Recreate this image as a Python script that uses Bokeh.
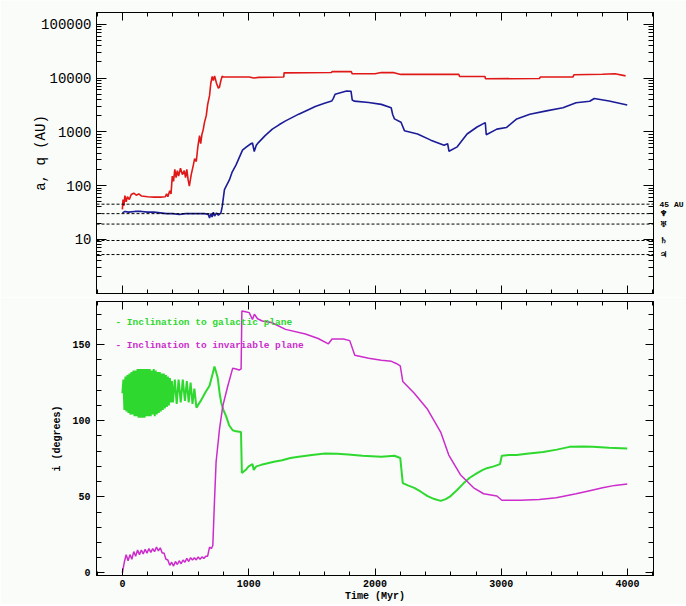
from bokeh.plotting import figure
from bokeh.layouts import column
from bokeh.models import (Range1d, LogAxis, LinearAxis, FixedTicker, PrintfTickFormatter,
                          Span, Label, CustomLabelingPolicy, CustomJSTickFormatter)
from bokeh.embed import file_html
from bokeh.resources import INLINE

# ---------------- data ----------------
# semi-major axis a (AU) vs time (Myr)
a_series = [(0, 36), (5, 55), (12, 42), (20, 65), (30, 50), (40, 62), (55, 55), (70, 68), (90, 72),
            (110, 66), (130, 70), (150, 64), (200, 62), (250, 61), (300, 61), (340, 62), (350, 70),
            (360, 62), (375, 80), (385, 70), (395, 150), (405, 120), (415, 200), (425, 140), (435, 190),
            (445, 150), (460, 210), (475, 160), (490, 190), (500, 140), (510, 200), (520, 130), (530, 98),
            (545, 160), (560, 230), (572, 316), (585, 280), (597, 520), (611, 850), (620, 600), (630, 900),
            (640, 1100), (650, 1500), (664, 2000), (675, 3200), (690, 4700), (700, 8000), (711, 10700),
            (720, 9000), (730, 11000), (745, 8000), (760, 6500), (768, 6700), (780, 9000), (790, 10800),
            (800, 10500), (1004, 10500), (1040, 10000), (1080, 10300), (1278, 10500), (1280, 12500),
            (1655, 12700), (1660, 13200), (1812, 13200), (1820, 12000), (2000, 12000), (2050, 12700),
            (2150, 12600), (2204, 11700), (2664, 11700), (2670, 10700), (2871, 10700), (2875, 9700),
            (3302, 9800), (3310, 10500), (3568, 10500), (3575, 11500), (3800, 11800), (3900, 12000),
            (3984, 11000)]
# perihelion q (AU) vs time (Myr)
q_series = [(0, 31), (20, 33), (50, 32), (100, 33), (150, 33), (200, 32), (250, 32), (300, 31), (350, 30),
            (400, 30), (450, 29), (500, 30), (550, 30), (600, 30), (650, 30), (680, 29), (690, 25), (700, 30),
            (710, 26), (720, 32), (730, 27), (745, 31), (760, 28), (780, 31), (790, 40), (808, 84), (847, 127),
            (870, 180), (899, 240), (925, 330), (951, 455), (980, 520), (1017, 600), (1030, 620), (1044, 430),
            (1060, 560), (1077, 630), (1130, 850), (1187, 1120), (1240, 1350), (1292, 1600), (1396, 2130),
            (1460, 2500), (1527, 2950), (1600, 3400), (1657, 3730), (1670, 4200), (1684, 5000), (1775, 5750),
            (1810, 5700), (1820, 3900), (1835, 3730), (1950, 3500), (2050, 3240), (2128, 2800), (2140, 2100),
            (2154, 1740), (2206, 1510), (2233, 1050), (2337, 910), (2442, 700), (2547, 560), (2575, 600),
            (2586, 435), (2651, 525), (2729, 910), (2808, 1230), (2873, 1480), (2881, 880), (2965, 1120),
            (3040, 1200), (3122, 1740), (3226, 2130), (3357, 2450), (3488, 2800), (3592, 3470), (3700, 3700),
            (3736, 4170), (3853, 3730), (3997, 3150)]
# reference distances (AU) and their labels
ref_dist = [45, 30, 19.2, 9.5, 5.2]
ref_labels = ["45 AU", "\u2646", "\u2645", "\u2644", "\u2643"]

# inclination to galactic plane (deg)
incl_gal = [(0, 118), (8, 127), (16, 107), (24, 129), (32, 106), (40, 130), (48, 105), (56, 131), (64, 104),
            (72, 132), (80, 104), (88, 133), (96, 103), (104, 133), (112, 103), (120, 134), (128, 102),
            (136, 134), (144, 102), (152, 134), (160, 102), (168, 134), (176, 102), (184, 134), (192, 103),
            (200, 134), (208, 103), (216, 134), (224, 103), (232, 133), (240, 104), (248, 134), (256, 103),
            (264, 133), (272, 104), (280, 132), (288, 105), (296, 132), (304, 106), (312, 131), (320, 107),
            (328, 131), (336, 108), (344, 130), (352, 109), (360, 129), (368, 110), (376, 128), (384, 112),
            (392, 126), (400, 112), (415, 127), (430, 111), (445, 127), (462, 112), (478, 127), (495, 113),
            (510, 126), (525, 112), (540, 125), (555, 111), (570, 121), (586, 108.6), (620, 113), (660, 119),
            (690, 123), (715, 131), (729, 135.6), (742, 132), (755, 128), (770, 118), (782, 112), (800, 107),
            (821, 103), (845, 97), (873, 93.7), (900, 93), (939, 92.6), (946, 65.6), (980, 68), (1000, 70),
            (1030, 71.5), (1040, 67.6), (1060, 70), (1100, 71), (1150, 72), (1200, 73), (1265, 74),
            (1330, 75.5), (1396, 76.3), (1500, 77.5), (1605, 78.5), (1700, 78.3), (1788, 77.8), (1900, 77),
            (2050, 76.3), (2154, 77), (2200, 75.5), (2220, 59), (2260, 57.5), (2311, 55.9), (2360, 53.5),
            (2416, 50.5), (2470, 48.5), (2520, 47.3), (2560, 48.5), (2599, 50.5), (2650, 54.5), (2703, 59),
            (2750, 62.5), (2808, 65.5), (2850, 67.5), (2886, 68.8), (2940, 70), (2990, 71.5), (3004, 77),
            (3060, 77.5), (3122, 77.4), (3200, 78.3), (3331, 79.5), (3440, 81), (3540, 82.8), (3650, 83),
            (3723, 82.8), (3853, 82.2), (3997, 81.7)]
# inclination to invariable plane (deg)
incl_inv = [(0, 0), (15, 7), (30, 12), (45, 8), (60, 12), (75, 9), (90, 14), (105, 11), (120, 15), (135, 12),
            (150, 15), (165, 12.5), (180, 15.5), (195, 13), (210, 16), (225, 13.5), (240, 16), (255, 14),
            (270, 17), (285, 14.5), (300, 16.5), (315, 13), (330, 13), (345, 9), (360, 8.5), (375, 5), (390, 7),
            (405, 4.5), (420, 7.5), (435, 5.5), (450, 8), (465, 6), (480, 8.5), (495, 7), (510, 9.5), (525, 7.5),
            (540, 10), (555, 8.5), (570, 10), (585, 8.5), (600, 10.5), (615, 9), (630, 10.5), (645, 9.5),
            (660, 11), (675, 11), (690, 17), (705, 16), (716, 18), (729, 47), (742, 73), (769, 94.6),
            (795, 109.7), (834, 122.6), (873, 134.4), (900, 134), (925, 133.3), (940, 134), (946, 172),
            (975, 171.5), (1004, 171), (1030, 166.5), (1045, 170), (1070, 167), (1108, 165.5), (1180, 164.5),
            (1292, 160), (1449, 157), (1550, 154), (1631, 150.5), (1660, 153.7), (1749, 153.7), (1800, 152.6),
            (1840, 143), (1950, 141), (2050, 139.7), (2130, 139), (2168, 137.6), (2200, 136), (2220, 125.8),
            (2311, 118), (2416, 107.5), (2520, 92.5), (2584, 77.4), (2676, 64.5), (2781, 55.9), (2860, 52),
            (2965, 50.5), (3004, 47.7), (3150, 47.7), (3300, 48.2), (3435, 49.4), (3592, 52), (3700, 54),
            (3802, 55.9), (3900, 57.5), (3997, 58.4)]

x_major = [0, 1000, 2000, 3000, 4000]
x_minor = [-200, 200, 400, 600, 800, 1200, 1400, 1600, 1800, 2200, 2400, 2600, 2800,
           3200, 3400, 3600, 3800, 4200]
log_major = [1, 10, 100, 1000, 10000, 100000]
log_minor = [m * 10 ** e for e in range(0, 6) for m in range(2, 10)]
inc_major = [0, 50, 100, 150]
inc_minor = [10, 20, 30, 40, 60, 70, 80, 90, 110, 120, 130, 140, 160, 170]

# ---------------- style ----------------
BG = "#f9fcf9"
MONO = "Liberation Mono"
GREEN = "#2fd82f"
MAGENTA = "#cc2ccc"


def unzip(pairs):
    return [p[0] for p in pairs], [p[1] for p in pairs]


def no_labels():
    return CustomLabelingPolicy(code="""
        const out = indices.clone ? indices.clone() : indices;
        for (const i of Array.from(indices)) out.unset(i);
        return out;
    """)


def style_ticks(ax, maj=9, mnr=5, labels=True):
    ax.major_tick_in = maj
    ax.major_tick_out = 0
    ax.minor_tick_in = mnr
    ax.minor_tick_out = 0
    ax.axis_line_color = "black"
    ax.major_tick_line_color = "black"
    ax.minor_tick_line_color = "black"
    ax.major_label_text_color = "black"
    ax.axis_label_text_color = "black"
    if not labels:
        ax.major_label_text_font_size = "1px"
        ax.major_label_standoff = 0
        ax.major_label_policy = no_labels()


xr = Range1d(-205, 4205)
W = 686

# ---------------- top panel ----------------
top = figure(width=W, height=297, x_range=xr, y_range=Range1d(0.98, 166000), y_axis_type="log",
             x_axis_location=None, y_axis_location=None,
             output_backend="svg", toolbar_location=None,
             min_border_left=96, min_border_right=26, min_border_top=12, min_border_bottom=0,
             background_fill_color=BG, border_fill_color=BG,
             outline_line_color="black")
top.xgrid.visible = False
top.ygrid.visible = False

ly = LogAxis(ticker=FixedTicker(ticks=log_major, minor_ticks=log_minor),
             formatter=PrintfTickFormatter(format="%d"),
             major_label_overrides={1: ""})
style_ticks(ly, 10, 5)
ly.major_label_text_font = MONO
ly.major_label_text_font_size = "14px"
ly.major_label_standoff = 5
ly.axis_label = "a, q (AU)"
ly.axis_label_text_font = MONO
ly.axis_label_text_font_size = "14px"
ly.axis_label_text_font_style = "normal"
ly.axis_label_standoff = -11
top.add_layout(ly, "left")

ry = LogAxis(ticker=FixedTicker(ticks=log_major, minor_ticks=log_minor))
style_ticks(ry, 10, 5, labels=False)
top.add_layout(ry, "right")

# labels for the reference distances, right of the frame
rl = LogAxis(ticker=FixedTicker(ticks=ref_dist, minor_ticks=[]),
             formatter=CustomJSTickFormatter(args=dict(d=ref_dist, l=ref_labels),
                                             code="const i = d.indexOf(tick); return i >= 0 ? l[i] : '';"))
rl.axis_line_color = None
rl.major_tick_line_color = None
rl.minor_tick_line_color = None
rl.major_tick_in = 0
rl.major_tick_out = 0
rl.major_label_standoff = 2
rl.major_label_text_font = MONO
rl.major_label_text_font_style = "bold"
rl.major_label_text_font_size = "8px"
rl.major_label_text_color = "black"
top.add_layout(rl, "right")

tx = LinearAxis(ticker=FixedTicker(ticks=x_major, minor_ticks=x_minor))
style_ticks(tx, 8, 4, labels=False)
top.add_layout(tx, "above")
bx = LinearAxis(ticker=FixedTicker(ticks=x_major, minor_ticks=x_minor))
style_ticks(bx, 8, 4, labels=False)
top.add_layout(bx, "below")

for d in ref_dist:
    top.add_layout(Span(location=d, dimension="width", line_color="black", line_width=1,
                        line_dash="3 2"))

at, av = unzip(a_series)
qt, qv = unzip(q_series)
top.line(at, av, line_color="#e01818", line_width=1.6)
top.line(qt, qv, line_color="#1c1c98", line_width=1.6)

# ---------------- bottom panel ----------------
bot = figure(width=W, height=307, x_range=xr, y_range=Range1d(-1.7, 178.3),
             x_axis_location=None, y_axis_location=None,
             output_backend="svg", toolbar_location=None,
             min_border_left=96, min_border_right=26, min_border_top=0, min_border_bottom=28,
             background_fill_color=BG, border_fill_color=BG,
             outline_line_color="black")
bot.xgrid.visible = False
bot.ygrid.visible = False

lb = LinearAxis(ticker=FixedTicker(ticks=inc_major, minor_ticks=inc_minor))
style_ticks(lb, 8, 5)
lb.major_label_text_font = MONO
lb.major_label_text_font_style = "bold"
lb.major_label_text_font_size = "10px"
lb.major_label_standoff = 6
lb.axis_label = "i (degrees)"
lb.axis_label_text_font = MONO
lb.axis_label_text_font_style = "bold"
lb.axis_label_text_font_size = "10px"
lb.axis_label_standoff = 6
bot.add_layout(lb, "left")

rb = LinearAxis(ticker=FixedTicker(ticks=inc_major, minor_ticks=inc_minor))
style_ticks(rb, 8, 5, labels=False)
bot.add_layout(rb, "right")

ab = LinearAxis(ticker=FixedTicker(ticks=x_major, minor_ticks=x_minor))
style_ticks(ab, 8, 4, labels=False)
bot.add_layout(ab, "above")

xb = LinearAxis(ticker=FixedTicker(ticks=x_major, minor_ticks=x_minor))
style_ticks(xb, 7, 4)
xb.major_label_text_font = MONO
xb.major_label_text_font_style = "bold"
xb.major_label_text_font_size = "10px"
xb.major_label_standoff = 4
xb.axis_label = "Time (Myr)"
xb.axis_label_text_font = MONO
xb.axis_label_text_font_style = "bold"
xb.axis_label_text_font_size = "10px"
xb.axis_label_standoff = 1
bot.add_layout(xb, "below")

gt, gv = unzip(incl_gal)
it, iv = unzip(incl_inv)
bot.line(gt, gv, line_color=GREEN, line_width=2)
bot.line(it, iv, line_color=MAGENTA, line_width=1.5)

bot.add_layout(Label(x=-55, y=164.7, text="- Inclination to galactic plane", text_font=MONO,
                     text_font_style="bold", text_font_size="9.5px", text_baseline="middle",
                     text_color=GREEN))
bot.add_layout(Label(x=-55, y=149.3, text="- Inclination to invariable plane", text_font=MONO,
                     text_font_style="bold", text_font_size="9.5px", text_baseline="middle",
                     text_color=MAGENTA))

layout = column(top, bot, spacing=0)
open("out.html", "w").write(file_html(layout, INLINE))
